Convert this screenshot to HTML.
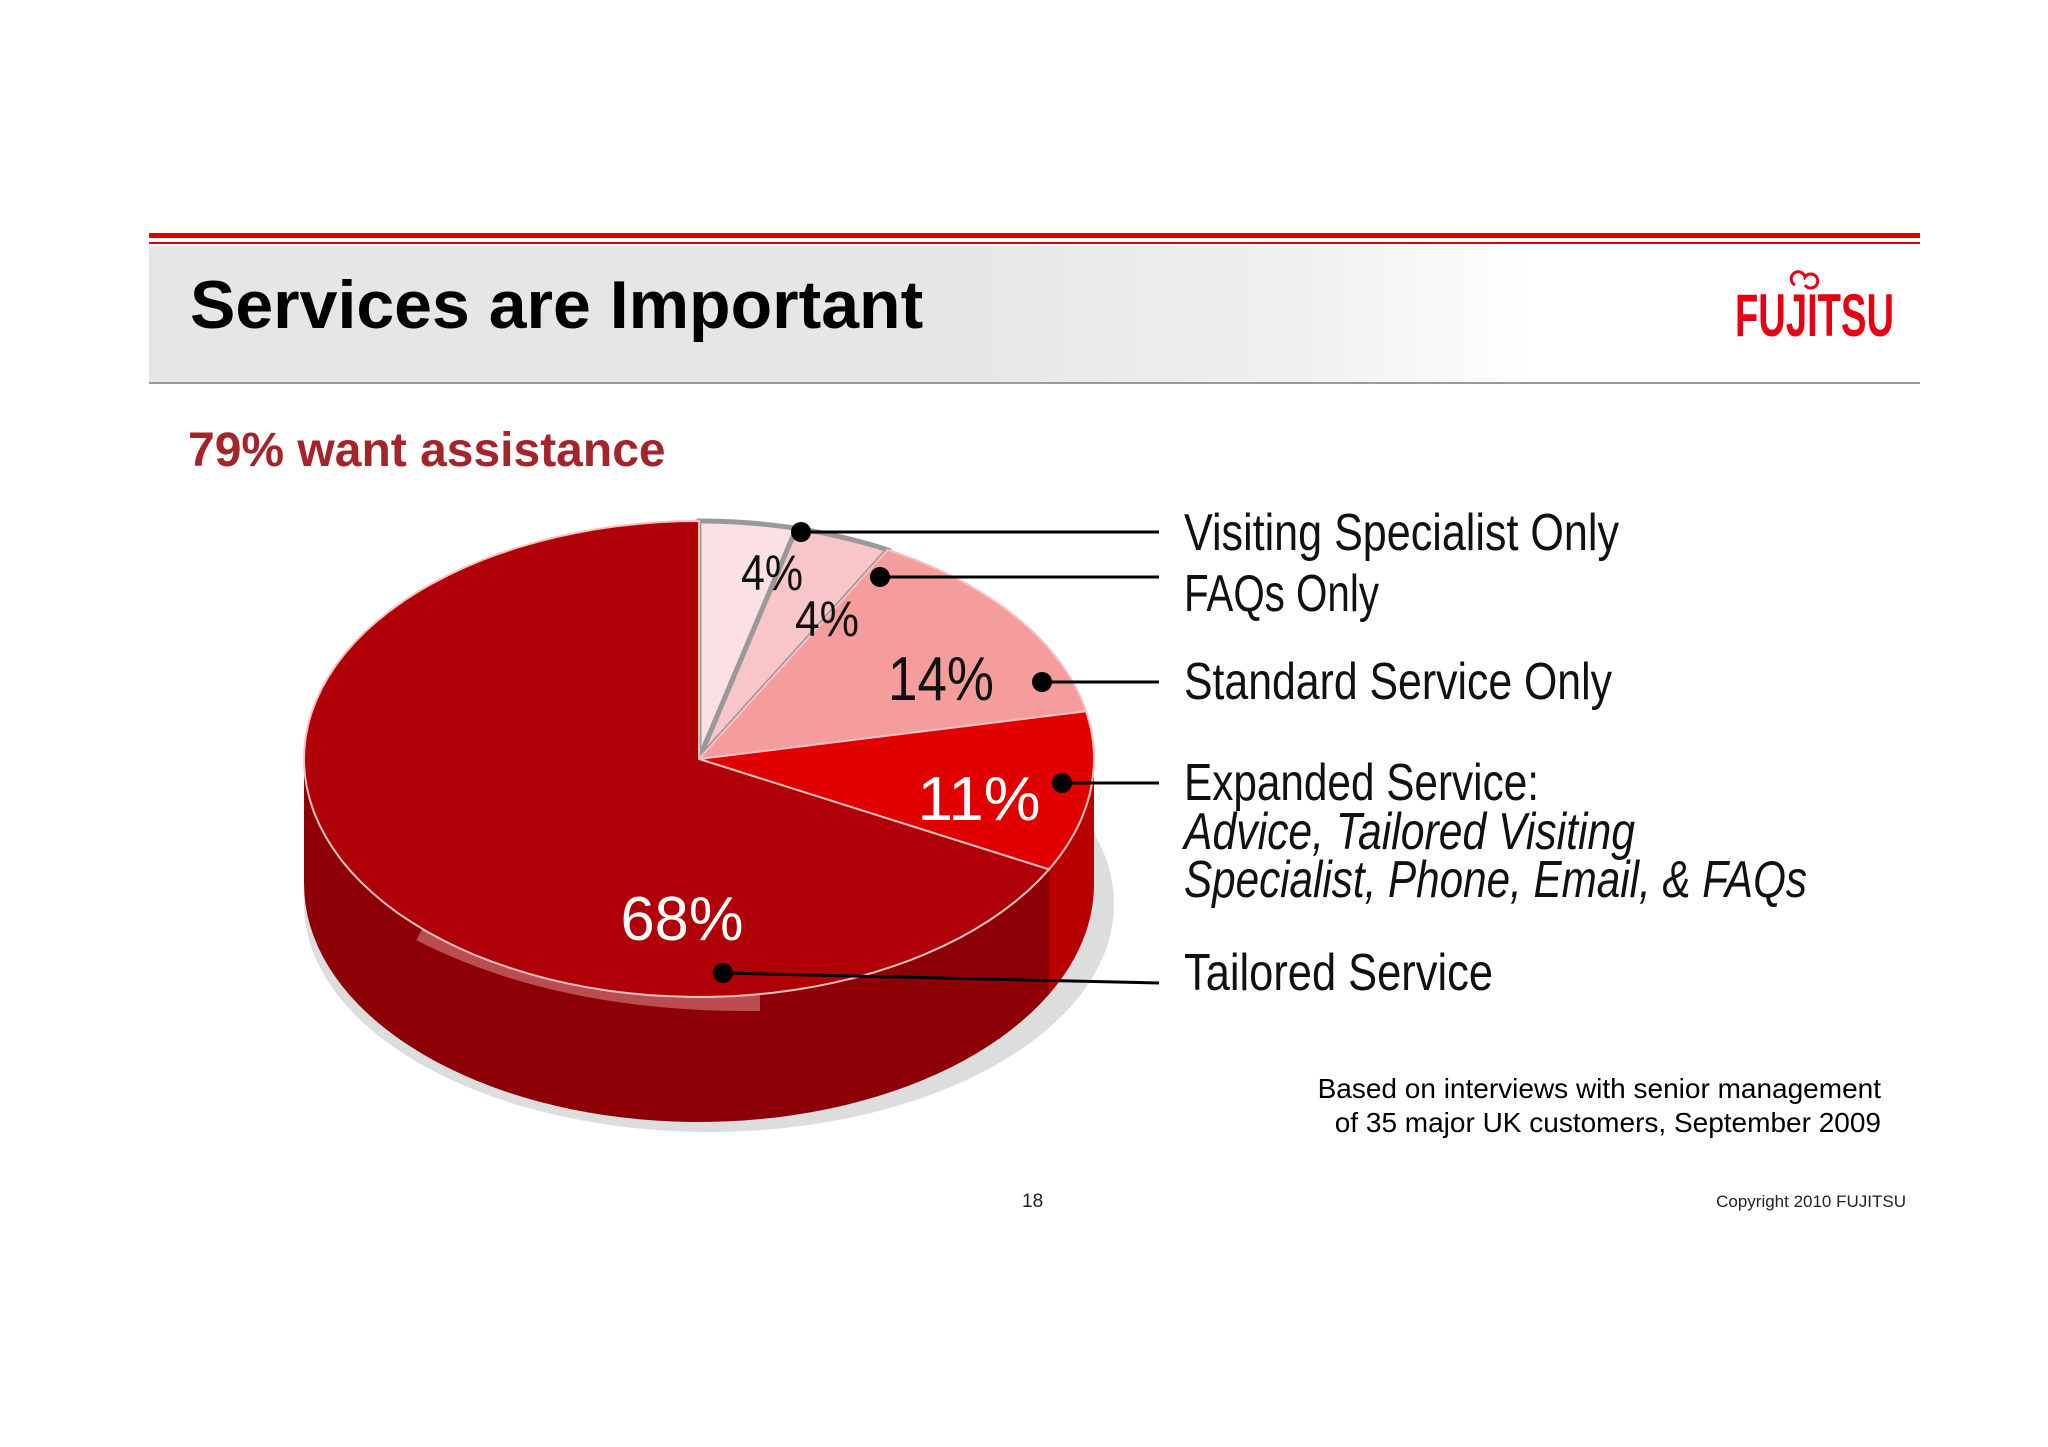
<!DOCTYPE html>
<html><head><meta charset="utf-8">
<style>
body{margin:0;background:#fff;}
#page{position:relative;width:2048px;height:1447px;overflow:hidden;background:#fff;font-family:"Liberation Sans",sans-serif;}
.t{position:absolute;white-space:nowrap;}
</style></head>
<body>
<div id="page">
  <div style="position:absolute;left:149px;top:233px;width:1771px;height:5px;background:#e00000"></div>
  <div style="position:absolute;left:149px;top:242px;width:1771px;height:2px;background:#e00000"></div>
  <div style="position:absolute;left:149px;top:246px;width:1771px;height:136px;background:linear-gradient(90deg,#e6e6e6 0%,#e6e6e6 45%,#f0f0f0 65%,#fff 78%,#fff 100%)"></div>
  <div style="position:absolute;left:149px;top:382px;width:1771px;height:2px;background:#9a9a9a"></div>
  <div class="t" style="left:190px;top:266px;font-size:68px;font-weight:bold;color:#000">Services are Important</div>
  <div class="t" style="left:188px;top:423px;font-size:48px;font-weight:bold;color:#a3242a">79% want assistance</div>

  <svg id="chart" width="2048" height="1447" style="position:absolute;left:0;top:0">
    <text x="1735" y="336" textLength="159" lengthAdjust="spacingAndGlyphs" font-family="Liberation Sans, sans-serif" font-weight="bold" font-size="60" fill="#e60012">FUJITSU</text>
    <path d="M1795,285 a7,7 0 1,1 10,-8 a7,7 0 1,1 0,8" fill="none" stroke="#e60012" stroke-width="3"/>
  </svg>

  <div class="t" style="right:167px;top:1072px;font-size:28px;color:#000;text-align:right;line-height:34px">Based on interviews with senior management<br>of 35 major UK customers, September 2009</div>
  <div class="t" style="left:1022px;top:1191px;font-size:19px;color:#222">18</div>
  <div class="t" style="right:142px;top:1192px;font-size:17px;color:#222">Copyright 2010 FUJITSU</div>
</div>
<script>
const categories=["Visiting Specialist Only","FAQs Only","Standard Service Only","Expanded Service","Tailored Service"];
const values=[4,4,14,11,68];
const valueLabels=["4%","4%","14%","11%","68%"];
const topColors=["#fbe1e3","#f8c6c8","#f59c9c","#e00000","#b00008"];
const sideColors=["#d8b8b8","#d8a0a0","#d07070","#b80000","#8c0006"];
const labelColors=["#111","#111","#111","#fff","#fff"];
const NS="http://www.w3.org/2000/svg";
const svg=document.getElementById('chart');
const FN='"Liberation Sans Narrow","Liberation Sans",sans-serif';
const cx=699,cy=759,rx=395,ry=238,depth=125;
const total=values.reduce((a,b)=>a+b,0);
function pt(a,dy){return [cx+rx*Math.sin(a),cy-ry*Math.cos(a)+(dy||0)];}
function mk(tag,attrs){const e=document.createElementNS(NS,tag);for(const k in attrs)e.setAttribute(k,attrs[k]);svg.appendChild(e);return e;}
const sh=mk('ellipse',{cx:cx+10,cy:cy+depth+20,rx:rx+10,ry:ry-10,fill:'#bbb',opacity:0.5});


let acc=0;const angs=[];
values.forEach(v=>{const a0=acc/total*2*Math.PI;acc+=v;angs.push([a0,acc/total*2*Math.PI]);});
angs.forEach(([a0,a1],i)=>{
  const s=Math.max(a0,Math.PI/2),e=Math.min(a1,3*Math.PI/2);
  if(e<=s)return;
  let d='';const N=60;
  for(let k=0;k<=N;k++){const p=pt(s+(e-s)*k/N);d+=(k?'L':'M')+p[0].toFixed(1)+','+p[1].toFixed(1);}
  for(let k=N;k>=0;k--){const p=pt(s+(e-s)*k/N,depth);d+='L'+p[0].toFixed(1)+','+p[1].toFixed(1);}
  const el=mk('path',{d:d+'Z',fill:sideColors[i]});
  
  
});
const hl=mk('path',{d:'M420,933 Q560,1005 760,1003',stroke:'#d98080','stroke-width':16,fill:'none',opacity:0.6});


angs.forEach(([a0,a1],i)=>{
  let d='M'+cx+','+cy;const N=80;
  for(let k=0;k<=N;k++){const p=pt(a0+(a1-a0)*k/N);d+='L'+p[0].toFixed(1)+','+p[1].toFixed(1);}
  const el=mk('path',{d:d+'Z',fill:topColors[i],stroke:i<2?'#999':'#f6c0c0','stroke-width':i<2?5:2});
  
  
});
// value label placement (layout only)
const vlXY=[[772,590],[827,636],[941,700],[979,820],[682,940]];
const vlW=[62,64,106,123,123];
angs.forEach((a,i)=>{
  const t=mk('text',{x:vlXY[i][0]-vlW[i]/2,y:vlXY[i][1],textLength:vlW[i],lengthAdjust:'spacingAndGlyphs','font-family':FN,'font-size':i<2?50:62,fill:labelColors[i]});
  t.textContent=valueLabels[i];
  
  
});
const dots=[[801,532],[880,577],[1042,682],[1062,783],[723,973]];
const ends=[532,577,682,783,983];
dots.forEach((d,i)=>{
  const l=mk('line',{x1:d[0],y1:d[1],x2:1159,y2:ends[i],stroke:'#000','stroke-width':3});
  
  
  const c=mk('circle',{cx:d[0],cy:d[1],r:10,fill:'#000'});
  
  
});
const lines=[["Visiting Specialist Only",550,false],["FAQs Only",611,false],["Standard Service Only",699,false],["Expanded Service:",800,false],["Advice, Tailored Visiting",849,true],["Specialist, Phone, Email, & FAQs",897,true],["Tailored Service",990,false]];
const lineW=[435,195,428,355,451,623,309];
lines.forEach((L,i)=>{
  const t=mk('text',{x:1184,y:L[1],textLength:lineW[i],lengthAdjust:'spacingAndGlyphs','font-family':FN,'font-size':52,fill:'#111','font-style':L[2]?'italic':'normal'});
  t.textContent=L[0];
  
  
});
</script>
</body></html>
